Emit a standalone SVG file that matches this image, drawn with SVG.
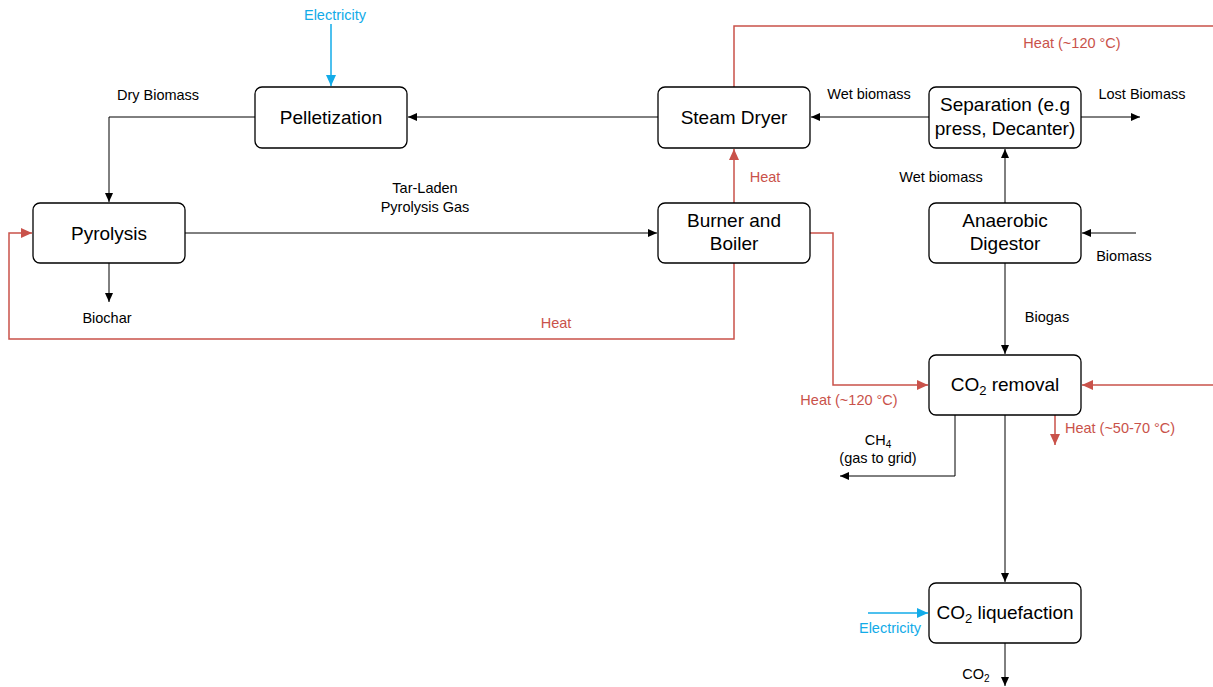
<svg xmlns="http://www.w3.org/2000/svg" width="1213" height="687" viewBox="0 0 1213 687">
<style>
.node rect{fill:#fff;stroke:#000;stroke-width:1.3}
.node text{font-family:"Liberation Sans",Arial,sans-serif;font-size:19px;fill:#000;text-anchor:middle}
.lbl{font-family:"Liberation Sans",Arial,sans-serif;font-size:14.5px;fill:#000;text-anchor:middle}
.red{fill:#C9524A}
.blue{fill:#12ABE8}
.k{fill:none;stroke:#000;stroke-width:1}
.r{fill:none;stroke:#C9524A;stroke-width:1.5}
.b{fill:none;stroke:#12ABE8;stroke-width:1.5}
</style>
<defs>
<marker id="ak" markerWidth="10" markerHeight="8" refX="9" refY="4" orient="auto" markerUnits="userSpaceOnUse"><path d="M0,0 L9,4 L0,8 Z" fill="#000"/></marker>
<marker id="ar" markerWidth="12" markerHeight="10" refX="11" refY="5" orient="auto" markerUnits="userSpaceOnUse"><path d="M0,0 L11,5 L0,10 Z" fill="#C9524A"/></marker>
<marker id="ab" markerWidth="12" markerHeight="10" refX="11" refY="5" orient="auto" markerUnits="userSpaceOnUse"><path d="M0,0 L11,5 L0,10 Z" fill="#12ABE8"/></marker>
</defs>
<rect width="1213" height="687" fill="#fff"/>
<g id="connectors">
<path class="b" d="M331,24 V86" marker-end="url(#ab)"/>
<path class="k" d="M658,117 H408" marker-end="url(#ak)"/>
<path class="k" d="M255,117 H109 V202" marker-end="url(#ak)"/>
<path class="k" d="M185,233 H657" marker-end="url(#ak)"/>
<path class="k" d="M109,263 V302" marker-end="url(#ak)"/>
<path class="r" d="M734,263 V339 H9 V233 H32" marker-end="url(#ar)"/>
<path class="r" d="M734,203 V149" marker-end="url(#ar)"/>
<path class="r" d="M734,87 V26 H1213"/>
<path class="k" d="M929,117 H811" marker-end="url(#ak)"/>
<path class="k" d="M1081,117 H1140" marker-end="url(#ak)"/>
<path class="k" d="M1005,203 V149" marker-end="url(#ak)"/>
<path class="k" d="M1136,233 H1082" marker-end="url(#ak)"/>
<path class="k" d="M1005,263 V354" marker-end="url(#ak)"/>
<path class="r" d="M810,233 H833 V385 H928" marker-end="url(#ar)"/>
<path class="r" d="M1213,385 H1082" marker-end="url(#ar)"/>
<path class="r" d="M1055,415 V445" marker-end="url(#ar)"/>
<path class="k" d="M955,415 V476 H840" marker-end="url(#ak)"/>
<path class="k" d="M1005,415 V582" marker-end="url(#ak)"/>
<path class="b" d="M868,613 H928" marker-end="url(#ab)"/>
<path class="k" d="M1005,643 V686" marker-end="url(#ak)"/>
</g>
<g id="labels">
<text class="lbl blue" x="335" y="20">Electricity</text>
<text class="lbl" x="158" y="100">Dry Biomass</text>
<text class="lbl" x="425" y="193">Tar-Laden</text>
<text class="lbl" x="425" y="212">Pyrolysis Gas</text>
<text class="lbl" x="107" y="323">Biochar</text>
<text class="lbl red" x="556" y="328">Heat</text>
<text class="lbl red" x="765" y="182">Heat</text>
<text class="lbl red" x="1072" y="48">Heat (~120 °C)</text>
<text class="lbl" x="869" y="99">Wet biomass</text>
<text class="lbl" x="1142" y="99">Lost Biomass</text>
<text class="lbl" x="941" y="182">Wet biomass</text>
<text class="lbl" x="1124" y="261">Biomass</text>
<text class="lbl" x="1047" y="322">Biogas</text>
<text class="lbl red" x="849" y="405">Heat (~120 °C)</text>
<text class="lbl red" x="1120" y="433">Heat (~50-70 °C)</text>
<text class="lbl" x="878" y="445">CH<tspan font-size="10" dy="3">4</tspan></text>
<text class="lbl" x="878" y="463">(gas to grid)</text>
<text class="lbl blue" x="890" y="633">Electricity</text>
<text class="lbl" x="976" y="679">CO<tspan font-size="10" dy="3">2</tspan></text>
</g>
<g id="pelletization" class="node"><rect x="255" y="87" width="152" height="61" rx="7"/><text x="331" y="124">Pelletization</text></g>
<g id="steam-dryer" class="node"><rect x="658" y="87" width="152" height="61" rx="7"/><text x="734" y="124">Steam Dryer</text></g>
<g id="separation" class="node"><rect x="929" y="87" width="152" height="61" rx="7"/><text x="1005" y="111">Separation (e.g</text><text x="1005" y="135">press, Decanter)</text></g>
<g id="pyrolysis" class="node"><rect x="33" y="203" width="152" height="60" rx="7"/><text x="109" y="240">Pyrolysis</text></g>
<g id="burner-boiler" class="node"><rect x="658" y="203" width="152" height="60" rx="7"/><text x="734" y="227">Burner and</text><text x="734" y="250">Boiler</text></g>
<g id="anaerobic-digestor" class="node"><rect x="929" y="203" width="152" height="60" rx="7"/><text x="1005" y="227">Anaerobic</text><text x="1005" y="250">Digestor</text></g>
<g id="co2-removal" class="node"><rect x="929" y="355" width="152" height="60" rx="7"/><text x="1005" y="391">CO<tspan font-size="13" dy="4">2</tspan><tspan dy="-4"> removal</tspan></text></g>
<g id="co2-liquefaction" class="node"><rect x="929" y="583" width="152" height="60" rx="7"/><text x="1005" y="619">CO<tspan font-size="13" dy="4">2</tspan><tspan dy="-4"> liquefaction</tspan></text></g>
</svg>
